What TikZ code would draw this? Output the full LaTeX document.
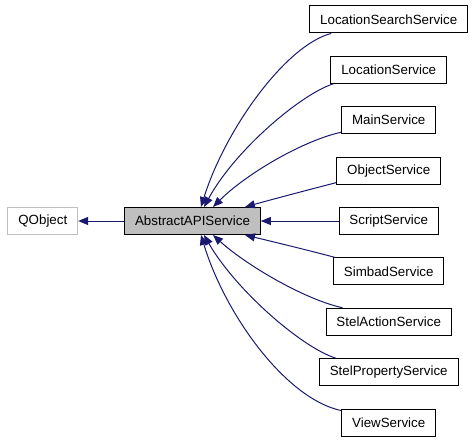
\documentclass[tikz,border=0pt]{standalone}
\usepackage{fontspec}
\setmainfont{Liberation Sans}
\usepackage{xcolor}
\usepackage{tikz}
\usetikzlibrary{arrows.meta, positioning, calc}
\definecolor{edgeblue}{RGB}{25, 25, 112}
\definecolor{basegray}{RGB}{191,191,191}

\begin{document}
\begin{tikzpicture}[
    x=0.75pt, y=-0.75pt,
    node distance = 16.8pt and 58.3pt,
    cls/.style    = {rectangle, draw=black, line width=0.75pt, fill=white,
                     minimum height=20.25pt, inner xsep=7.8pt,
                     font=\fontsize{10}{12}\selectfont},
    base/.style   = {cls, fill=basegray},
    ext/.style    = {cls, draw=basegray},
    edge/.style   = {-{Triangle[length=7.5pt, width=6pt]}, line width=0.75pt,
                     color=edgeblue},
]
\useasboundingbox (0,0) rectangle (472,443);

\node[base] (api) at (192.5,221) {AbstractAPIService};
\node[ext, left=34.5pt of api] (qobj) {QObject};

\node[cls, right=of api]   (script) {ScriptService};
\node[cls, above=of script] (obj)   {ObjectService};
\node[cls, above=of obj]    (main)  {MainService};
\node[cls, above=of main]   (loc)   {LocationService};
\node[cls, above=of loc]    (lss)   {LocationSearchService};
\node[cls, below=of script] (simbad){SimbadService};
\node[cls, below=of simbad] (action){StelActionService};
\node[cls, below=of action] (prop)  {StelPropertyService};
\node[cls, below=of prop]   (view)  {ViewService};

\draw[edge] (api.west) -- (qobj.east);

\draw[edge] ($(lss.south west)+(22,0)$) .. controls +(-46,12) and +(24,-77) .. ($(api.north)+(8.5,0)$);
\draw[edge] ($(loc.south west)+(3,0)$)  .. controls +(-32,10) and +(31,-57) .. ($(api.north)+(11.5,0)$);
\draw[edge] ($(main.south west)+(0,-2)$) .. controls +(-40,9) and +(32,-32) .. ($(api.north)+(20.5,0)$);
\draw[edge] ($(obj.south west)+(0,-2)$)  .. controls +(-31,8) and +(25,-7) .. ($(api.north)+(52.5,0)$);
\draw[edge] (script.west) -- (api.east);
\draw[edge] ($(simbad.north west)+(2,0)$) .. controls +(-30,-8) and +(25,6) .. ($(api.south)+(52.5,0)$);
\draw[edge] ($(action.north west)+(17,0)$) .. controls +(-40,-9) and +(32,29) .. ($(api.south)+(20.5,0)$);
\draw[edge] ($(prop.north west)+(17,0)$)   .. controls +(-35,-11) and +(31,54) .. ($(api.south)+(11.5,0)$);
\draw[edge] ($(view.north west)+(0,2)$)    .. controls +(-56,-12) and +(24,79) .. ($(api.south)+(8.5,0)$);
\end{tikzpicture}
\end{document}
